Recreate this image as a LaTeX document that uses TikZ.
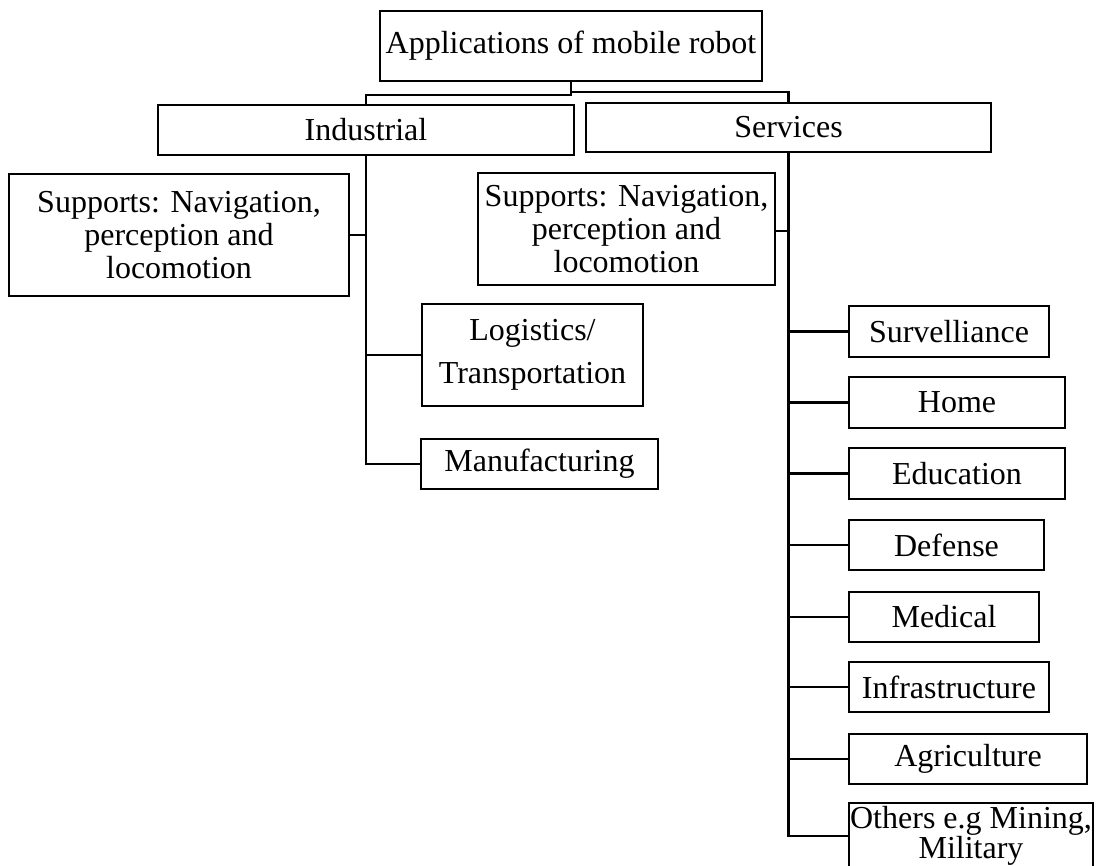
\documentclass[tikz,border=0pt]{standalone}
\usepackage{fontspec}
\setmainfont{Liberation Serif}
\begin{document}
\begin{tikzpicture}[x=0.75pt,y=-0.75pt,
  box/.style={draw, line width=1.8pt, inner sep=0pt, align=center,
    font=\fontsize{24}{24.75}\selectfont},
  bx/.style 2 args={minimum width=#1*0.75pt, minimum height=#2*0.75pt},
  link/.style={line width=1.7pt}]
\useasboundingbox (0,0) rectangle (1099,865);

% top level
\node[box, bx={382}{70}] (top) at (571,46) {Applications of mobile robot};
\node[box, bx={416}{50}] (ind) at (366,130) {Industrial};
\node[box, bx={405}{49}] (srv) at (788.5,127.5) {Services};

% industrial branch
\node[box, bx={340}{122}] (sup1) at (179,235) {Supports: Navigation,\\perception and\\locomotion};
\node[box, bx={221}{102}, font=\fontsize{24}{32}\selectfont] (log) at (532.5,355) {Logistics/\\Transportation};
\node[box, bx={237}{50}] (man) at (539.5,464) {Manufacturing};

% services branch
\node[box, bx={297}{112}] (sup2) at (626.5,229) {Supports: Navigation,\\perception and\\locomotion};
\node[box, bx={200}{51}] (sur) at (949,331.5) {Survelliance};
\node[box, bx={216}{51}] (home) at (957,402.5) {Home};
\node[box, bx={216}{51}] (edu) at (957,473.5) {Education};
\node[box, bx={195}{50}] (def) at (946.5,545) {Defense};
\node[box, bx={190}{50}] (med) at (944,617) {Medical};
\node[box, bx={200}{50}] (inf) at (949,687) {Infrastructure};
\node[box, bx={238}{50}] (agr) at (968,759) {Agriculture};
\node[box, bx={244}{66}, font=\fontsize{24}{23}\selectfont] (oth) at (971,836) {Others e.g Mining,\\Military};

% connectors from the root
\draw[link] (top.south) -- ++(0,13) -| (ind.north);
\draw[link] (top.south) -- ++(0,10) -| (srv.north);

% industrial trunk
\draw[link] (ind.south) |- (man.west);
\draw[link] (sup1.east) -- (sup1.east -| ind.south);
\draw[link] (log.west) -- (log.west -| ind.south);

% services trunk
\draw[link] (srv.south) |- (oth.west);
\draw[link] ([yshift=-1.5pt]sup2.east) -- ([yshift=-1.5pt]sup2.east -| srv.south);
\foreach \n in {sur,home,edu,def,med,inf,agr}
  \draw[link] (\n.west) -- (\n.west -| srv.south);
\end{tikzpicture}
\end{document}
